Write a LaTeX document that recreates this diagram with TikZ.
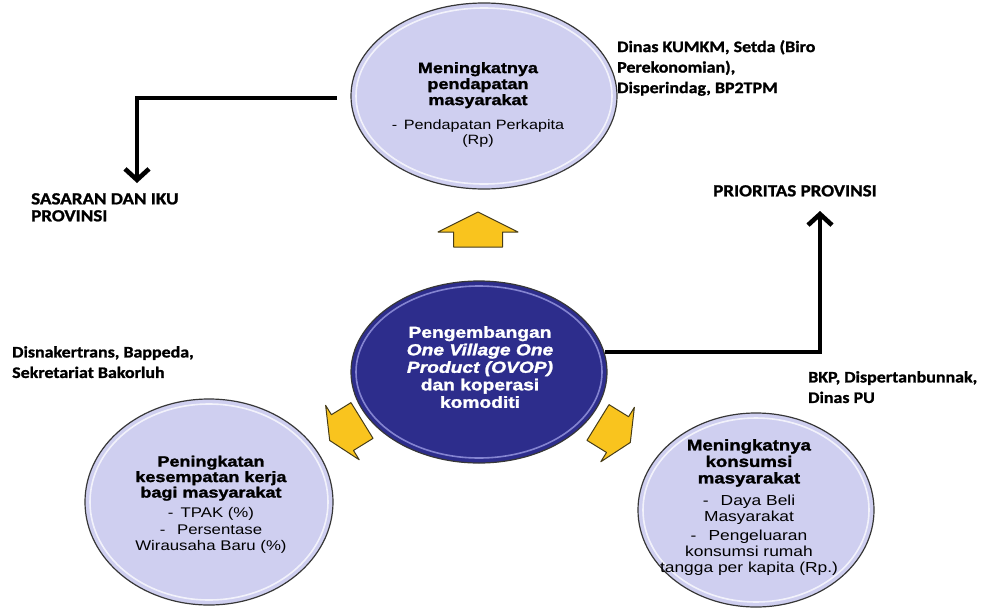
\documentclass[tikz,border=0pt]{standalone}
\usepackage{fontspec}
\usetikzlibrary{arrows.meta,shapes.geometric}
\newfontfamily\arialf[FakeStretch=1.2, BoldFeatures={FakeBold=1.6}, BoldItalicFeatures={FakeBold=1.6}]{Liberation Sans}
\newfontfamily\calf[FakeStretch=1.12, BoldFeatures={FakeBold=1.2}]{Carlito}
\definecolor{lav}{RGB}{207,207,240}
\definecolor{navyc}{RGB}{45,45,140}
\definecolor{goldc}{RGB}{249,196,30}
\definecolor{edgec}{RGB}{55,55,55}
\definecolor{arredge}{RGB}{70,60,25}
\newcommand\tsubA{\fontsize{13.5}{15}\selectfont}
\newcommand\tsubB{\fontsize{14}{16}\selectfont}
\newcommand\tsubC{\fontsize{14.5}{16}\selectfont}
\begin{document}
\begin{tikzpicture}[x=1pt,y=-1pt,
  ell/.style={ellipse, draw=edgec, line width=1.2pt, inner sep=0pt},
  lavell/.style={ell, fill=lav},
  navyell/.style={ell, fill=navyc},
  rim/.style={line width=1.6pt, draw=white, opacity=.75},
  navrim/.style={line width=1.6pt, draw=blue!25!white, opacity=.6},
  intext/.style={align=center, inner sep=0pt, text=black},
  side/.style={font=\calf\bfseries\fontsize{16}{20.5}\selectfont, align=left, inner sep=0pt, anchor=north west},
  caps/.style={side, font=\calf\bfseries\fontsize{17}{17}\selectfont},
  conn/.style={line width=3.6pt, line join=miter, -{Straight Barb[length=11pt,width=24pt,line width=4.6pt]}},
  yarrow/.style={fill=goldc, draw=arredge, line width=1pt, line join=round}]
\useasboundingbox (0,0) rectangle (985,608);

% ellipses
\node[lavell, minimum width=266pt, minimum height=186pt] (topE) at (484,96) {};
\draw[rim] (484,96) ellipse [x radius=128pt, y radius=88pt];
\node[navyell, minimum width=256pt, minimum height=182pt] (cenE) at (479,372) {};
\draw[navrim] (479,372) ellipse [x radius=123pt, y radius=86pt];
\node[lavell, minimum width=248pt, minimum height=206pt] (blE) at (209,502) {};
\draw[rim] (209,502) ellipse [x radius=119pt, y radius=98pt];
\node[lavell, minimum width=236pt, minimum height=194pt] (brE) at (756,510) {};
\draw[rim] (756,510) ellipse [x radius=113pt, y radius=92pt];

% ellipse texts
\node[intext, anchor=north, font=\arialf\fontsize{15}{16}\selectfont] (topT) at (478,62)
 {\textbf{Meningkatnya}\\ \textbf{pendapatan}\\ \textbf{masyarakat}\\[8pt]
  {\tsubA -\enspace Pendapatan Perkapita}\\[-1pt] {\tsubA (Rp)}};
\node[intext, anchor=north, text=white, font=\arialf\fontsize{16}{17.5}\selectfont] (cenT) at (480,326)
 {\textbf{Pengembangan}\\ \textbf{\itshape One Village One}\\ \textbf{\itshape Product (OVOP)}\\ \textbf{dan koperasi}\\ \textbf{komoditi}};
\node[intext, anchor=north, font=\arialf\fontsize{15}{15.5}\selectfont] (blT) at (211,455.5)
 {\textbf{Peningkatan}\\ \textbf{kesempatan kerja}\\ \textbf{bagi masyarakat}\\[4pt]
  {\tsubB -\enspace TPAK (\%)}\\[2pt] {\tsubB -\enspace\ Persentase}\\ {\tsubB Wirausaha Baru (\%)}};
\node[intext, anchor=north, font=\arialf\fontsize{15.5}{16.5}\selectfont] (brT) at (749,439)
 {\textbf{Meningkatnya}\\ \textbf{konsumsi}\\ \textbf{masyarakat}\\[6pt]
  {\tsubC -\enspace\ Daya Beli}\\[-1pt] {\tsubC Masyarakat}\\[3pt] {\tsubC -\enspace\ Pengeluaran}\\[-1pt] {\tsubC konsumsi rumah}\\[0pt] {\tsubC tangga per kapita (Rp.)}};

% side texts
\node[side] (dinas) at (617,40) {Dinas KUMKM, Setda (Biro\\Perekonomian),\\Disperindag, BP2TPM};
\node[side] (disnak) at (12,346) {Disnakertrans, Bappeda,\\Sekretariat Bakorluh};
\node[side] (bkp) at (808,371) {BKP, Dispertanbunnak,\\Dinas PU};
\node[caps] (sasaran) at (31,193) {SASARAN DAN IKU\\PROVINSI};
\node[caps] (prior) at (713,185) {PRIORITAS PROVINSI};

% connectors
\coordinate (ls) at (337,98);
\coordinate (lt) at (137,183);
\coordinate (rs) at (605,352);
\coordinate (rt) at (820,211);
\draw[conn] (ls) -| (lt);
\draw[conn] (rs) -| (rt);

% yellow block arrows
\begin{scope}[shift={(478,229.5)}, rotate=90]
  \draw[yarrow] (-17.5,-24.5) -- (-2.5,-24.5) -- (-2.5,-40) -- (17.5,0) -- (-2.5,40) -- (-2.5,24.5) -- (-17.5,24.5) -- cycle;
\end{scope}
\begin{scope}[shift={(345,431)}, rotate=211.7]
  \draw[yarrow] (-20,-21) -- (3,-21) -- (3,-32) -- (18,0) -- (3,32) -- (3,21) -- (-20,21) -- cycle;
\end{scope}
\begin{scope}[shift={(615,433)}, rotate=-31.7]
  \draw[yarrow] (-20,-21) -- (3,-21) -- (3,-32) -- (18,0) -- (3,32) -- (3,21) -- (-20,21) -- cycle;
\end{scope}
\end{tikzpicture}
\end{document}
